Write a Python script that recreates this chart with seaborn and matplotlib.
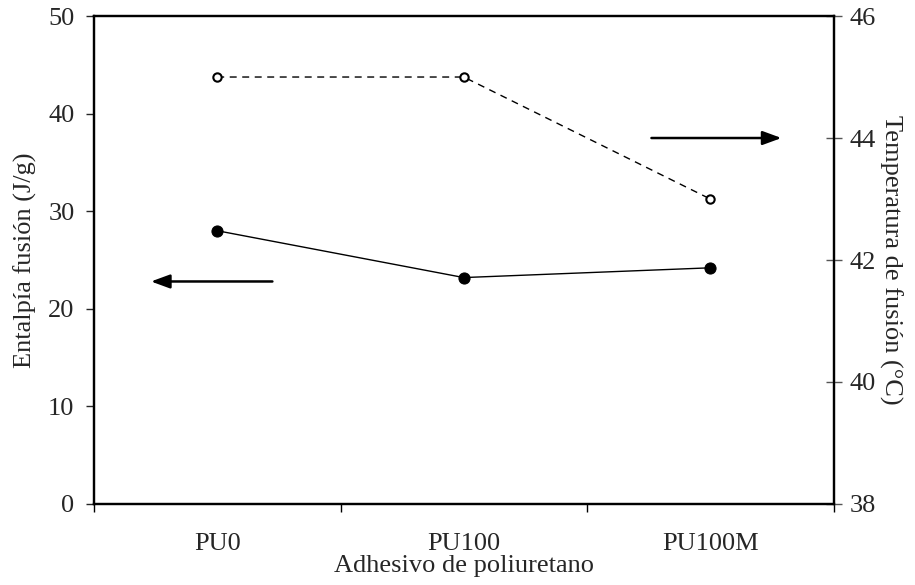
import matplotlib
matplotlib.use("Agg")
import matplotlib.pyplot as plt
import seaborn as sns
import pandas as pd

# Data
adhesivos = ["PU0", "PU100", "PU100M"]
entalpia = [28.0, 23.2, 24.2]        # J/g, left axis
temperatura = [45.0, 45.0, 43.0]     # °C, right axis

df = pd.DataFrame({"adhesivo": adhesivos, "entalpia": entalpia, "temperatura": temperatura})

sns.set_style("ticks")
plt.rcParams["font.family"] = ["Liberation Serif", "DejaVu Serif"]
plt.rcParams["font.size"] = 19

fig = plt.figure(figsize=(9.15, 5.85), dpi=100)
ax = fig.add_axes([0.1027, 0.1385, 0.8083, 0.8341])
ax2 = ax.twinx()

# Entalpía - filled circles, solid line
sns.lineplot(data=df, x="adhesivo", y="entalpia", ax=ax, color="black", lw=1,
             marker="o", markersize=8, markeredgecolor="black", sort=False)
# Temperatura - open circles, dashed line
sns.lineplot(data=df, x="adhesivo", y="temperatura", ax=ax2, color="black", lw=1,
             linestyle=(0, (5, 4)), marker="o", markersize=6, markerfacecolor="white",
             markeredgecolor="black", markeredgewidth=1.5, sort=False)

ax.set_xlim(-0.5, 2.5)
ax.set_ylim(0, 50)
ax2.set_ylim(38, 46)
ax.set_yticks(range(0, 51, 10))
ax2.set_yticks(range(38, 47, 2))

# category labels on minor ticks, tick marks at the boundaries
ax.set_xticks([-0.5, 0.5, 1.5, 2.5])
ax.set_xticklabels([])
ax.set_xticks([0, 1, 2], minor=True)
ax.set_xticklabels(adhesivos, minor=True)
ax.tick_params(axis="x", which="major", direction="out", length=6, width=1, color="black")
ax.tick_params(axis="x", which="minor", length=0, pad=21, labelsize=19)
ax.tick_params(axis="y", direction="out", length=6, width=1, pad=8, labelsize=19)
ax2.tick_params(axis="y", direction="inout", length=11, width=1, pad=6, labelsize=19, color="#555555")

for a in (ax, ax2):
    for s in a.spines.values():
        s.set_linewidth(1.6)
        s.set_color("black")

ax.set_xlabel("Adhesivo de poliuretano", fontsize=19, labelpad=0)
ax.set_ylabel("Entalpía fusión (J/g)", fontsize=19, labelpad=8)
ax2.set_ylabel("Temperatura de fusión (°C)", fontsize=19, rotation=270, labelpad=19)

# arrows pointing to each axis
ax.annotate("", xy=(-0.28, 22.8), xytext=(0.235, 22.8),
            arrowprops=dict(arrowstyle="-|>,head_length=0.6,head_width=0.22", color="black", lw=1.8))
ax2.annotate("", xy=(2.30, 44.0), xytext=(1.75, 44.0),
             arrowprops=dict(arrowstyle="-|>,head_length=0.6,head_width=0.22", color="black", lw=1.8))

fig.savefig("out.png", dpi=100)
